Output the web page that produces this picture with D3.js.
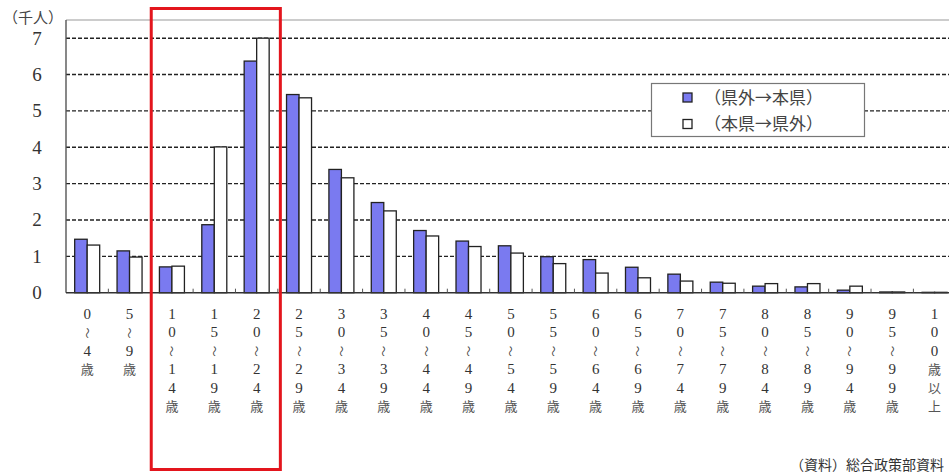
<!DOCTYPE html>
<html><head><meta charset="utf-8">
<script src="https://cdn.jsdelivr.net/npm/d3@7/dist/d3.min.js"></script>
<style>
html,body{margin:0;padding:0;background:#fff;overflow:hidden;}
svg{display:block;}
</style></head>
<body>
<svg id="chart" width="949" height="473"></svg>
<script>
// ---- data ----
const categories = ["0～4歳","5～9歳","10～14歳","15～19歳","20～24歳","25～29歳","30～34歳","35～39歳","40～44歳","45～49歳","50～54歳","55～59歳","60～64歳","65～69歳","70～74歳","75～79歳","80～84歳","85～89歳","90～94歳","95～99歳","100歳以上"];
const inflow  = [1.47,1.15,0.71,1.87,6.37,5.45,3.39,2.48,1.71,1.42,1.29,0.99,0.91,0.70,0.51,0.29,0.18,0.16,0.07,0.02,0.01]; // 県外→本県
const outflow = [1.31,0.98,0.73,4.01,7.00,5.36,3.16,2.25,1.56,1.27,1.09,0.80,0.54,0.41,0.32,0.26,0.25,0.25,0.18,0.02,0.01]; // 本県→県外
const seriesNames = ["（県外→本県）","（本県→県外）"];
const yTicks = [0,1,2,3,4,5,6,7];
const unitLabel = "（千人）";
const sourceLabel = "（資料）総合政策部資料";

// ---- layout ----
const svg = d3.select("#chart");
const pLeft = 66, pTop = 20, pBottom = 292.7;
const stepW = 42.37;
const pRight = pLeft + categories.length * stepW;
const serif = "Liberation Serif, DejaVu Serif, serif";
const cjk = "Noto Sans CJK JP, sans-serif";

const x = d3.scaleBand().domain(categories).range([pLeft, pRight]).paddingInner(0.41).paddingOuter(0.205);
const x1 = d3.scaleBand().domain([0,1]).range([0, x.bandwidth()]);
const y = d3.scaleLinear().domain([0, 7.5]).range([pBottom, pTop]);

// top border
svg.append("line").attr("x1", pLeft).attr("x2", 949).attr("y1", pTop).attr("y2", pTop)
  .attr("stroke", "#999").attr("stroke-width", 1.2);

// gridlines
svg.append("g").selectAll("line").data(yTicks.filter(d => d > 0)).join("line")
  .attr("x1", pLeft).attr("x2", 949)
  .attr("y1", d => y(d)).attr("y2", d => y(d))
  .attr("stroke", "#222").attr("stroke-width", 1.4).attr("stroke-dasharray", "4,2");

// y axis labels
svg.append("g").selectAll("text").data(yTicks).join("text")
  .attr("x", 37).attr("y", d => y(d) + 6.5)
  .attr("text-anchor", "middle").attr("font-size", 19)
  .attr("font-family", serif).attr("fill", "#333")
  .text(d => d);

svg.append("text").attr("x", 3).attr("y", 23).attr("font-size", 15)
  .attr("font-family", cjk).attr("fill", "#444").text(unitLabel);

// bars
const groups = svg.append("g").selectAll("g").data(categories).join("g")
  .attr("transform", d => `translate(${x(d)},0)`);
groups.append("rect")
  .attr("x", x1(0)).attr("width", x1.bandwidth())
  .attr("y", (d, i) => y(inflow[i])).attr("height", (d, i) => y(0) - y(inflow[i]))
  .attr("fill", "#7a7af0").attr("stroke", "#222").attr("stroke-width", 1.3);
groups.append("rect")
  .attr("x", x1(1)).attr("width", x1.bandwidth())
  .attr("y", (d, i) => y(outflow[i])).attr("height", (d, i) => y(0) - y(outflow[i]))
  .attr("fill", "#fff").attr("stroke", "#222").attr("stroke-width", 1.3);

// left axis & baseline
svg.append("line").attr("x1", pLeft).attr("x2", pLeft).attr("y1", pTop).attr("y2", pBottom)
  .attr("stroke", "#555").attr("stroke-width", 1.4);
svg.append("line").attr("x1", pLeft).attr("x2", 949).attr("y1", pBottom).attr("y2", pBottom)
  .attr("stroke", "#333").attr("stroke-width", 1.6);
// category tick marks
svg.append("g").selectAll("line").data(d3.range(1, categories.length)).join("line")
  .attr("x1", i => pLeft + i * x.step()).attr("x2", i => pLeft + i * x.step())
  .attr("y1", pBottom).attr("y2", pBottom - 4)
  .attr("stroke", "#555").attr("stroke-width", 1);

// x labels (vertical stacked characters)
const rowH = 18.4, firstRow = 319;
categories.forEach((c, i) => {
  const cx = x(c) + x.bandwidth() / 2;
  Array.from(c).forEach((ch, j) => {
    const yy = firstRow + j * rowH;
    const t = svg.append("text").attr("x", cx).attr("y", yy)
      .attr("text-anchor", "middle").attr("font-size", 15)
      .attr("font-family", serif).attr("fill", "#333").text(ch);
    if (ch === "～") {
      t.attr("transform", `rotate(90,${cx},${yy - 4.5})`).attr("font-size", 11)
        .attr("font-family", cjk).attr("fill", "#444");
    } else if (!/[0-9]/.test(ch)) {
      t.attr("font-size", 13).attr("font-family", cjk).attr("fill", "#555");
    }
  });
});

// legend
const lg = svg.append("g");
lg.append("rect").attr("x", 651.5).attr("y", 83.5).attr("width", 213).attr("height", 53)
  .attr("fill", "#fff").attr("stroke", "#777").attr("stroke-width", 1.2);
[["#7a7af0", 0], ["#fff", 1]].forEach(([col, k]) => {
  const cy = 97.5 + k * 26.5;
  lg.append("rect").attr("x", 683).attr("y", cy - 4.5).attr("width", 9).attr("height", 9)
    .attr("fill", col).attr("stroke", "#222").attr("stroke-width", 1.3);
  lg.append("text").attr("x", 704).attr("y", cy + 6).attr("font-size", 17)
    .attr("font-family", cjk).attr("fill", "#444").text(seriesNames[k]);
});

// red highlight box
svg.append("rect")
  .attr("x", x(categories[2]) - x.step() * 0.205 + 0.5)
  .attr("y", 8.5)
  .attr("width", x.step() * 3 + 2)
  .attr("height", 461)
  .attr("fill", "none").attr("stroke", "#e3151d").attr("stroke-width", 3);

// source note
svg.append("text").attr("x", 944).attr("y", 470).attr("font-size", 14)
  .attr("text-anchor", "end")
  .attr("font-family", cjk).attr("fill", "#333").text(sourceLabel);
</script>
</body></html>
